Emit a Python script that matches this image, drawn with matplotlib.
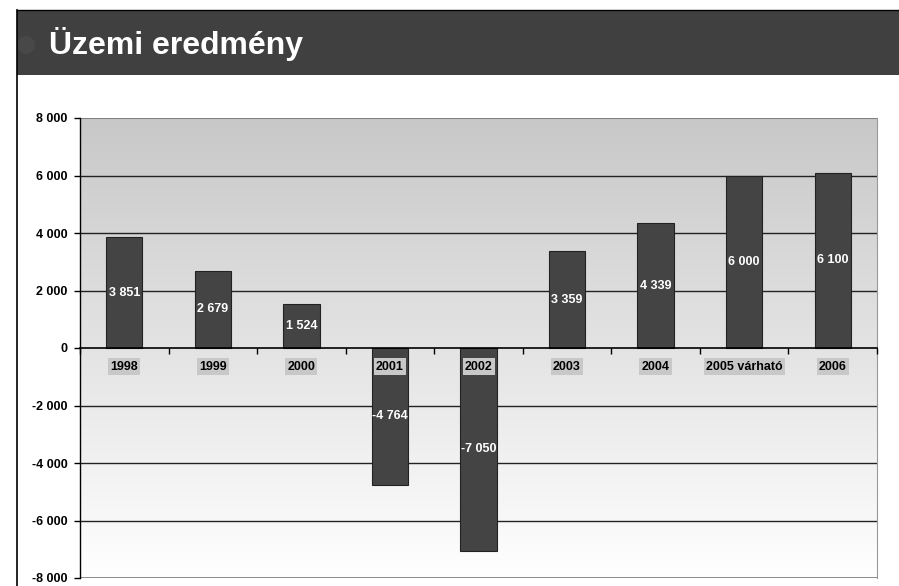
import numpy as np
import matplotlib.pyplot as plt
from matplotlib.patches import Rectangle, Ellipse
from matplotlib.ticker import FuncFormatter

plt.rcParams['font.family'] = ['Liberation Sans', 'DejaVu Sans']

years = ['1998', '1999', '2000', '2001', '2002', '2003', '2004', '2005 várható', '2006']
values = [3851, 2679, 1524, -4764, -7050, 3359, 4339, 6000, 6100]
yticks = [-8000, -6000, -4000, -2000, 0, 2000, 4000, 6000, 8000]


def fmt(v, pos=None):
    s = '{:,}'.format(int(abs(v))).replace(',', ' ')
    return ('-' if v < 0 else '') + s


fig = plt.figure(figsize=(8.99, 5.86), dpi=100)

# header band and page frame
fig.patches.append(Rectangle((17 / 899, 1 - 75 / 586), 1, 65 / 586, transform=fig.transFigure,
                             facecolor='#404040', edgecolor='none', zorder=0))
fig.patches.append(Ellipse((26 / 899, 1 - 45 / 586), 18 / 899, 18 / 586, transform=fig.transFigure,
                           facecolor='#484848', edgecolor='none', zorder=1))
fig.add_artist(plt.Line2D([17 / 899, 17 / 899], [0, 1 - 10 / 586], transform=fig.transFigure,
                          color='black', lw=1.2))
fig.add_artist(plt.Line2D([17 / 899, 1], [1 - 10 / 586, 1 - 10 / 586], transform=fig.transFigure,
                          color='black', lw=1.0))
fig.text(49 / 899, 1 - 44 / 586, 'Üzemi eredmény', color='white', fontsize=23,
         fontweight='bold', va='center', ha='left')

ax = fig.add_axes([80 / 899, 1 - 578 / 586, 797 / 899, 460 / 586])
x = np.arange(len(years))
ax.set_xlim(-0.5, len(years) - 0.5)
ax.set_ylim(-8000, 8000)

# gradient background: gray at top, white at bottom
shade = np.linspace(1.0, 200 / 255, 256).reshape(-1, 1)
img = np.dstack([shade, shade, shade])
ax.imshow(img, aspect='auto', extent=[-0.5, len(years) - 0.5, -8000, 8000],
          origin='lower', zorder=0, interpolation='bilinear')

for t in yticks[1:-1]:
    if t != 0:
        ax.axhline(t, color='#222222', lw=1.0, zorder=1)
ax.axhline(8000, color='#808080', lw=1.5, zorder=1)
ax.axhline(-8000, color='#808080', lw=2.0, zorder=1)

ax.bar(x, values, width=0.41, color='#444444', edgecolor='#222222', lw=0.8, zorder=2)

for xi, v in zip(x, values):
    ax.text(xi, v / 2, fmt(v), color='white', fontsize=9, fontweight='bold',
            ha='center', va='center', zorder=3)

ax.set_axisbelow(False)
ax.spines['bottom'].set_position(('data', 0))
ax.spines['bottom'].set_zorder(4)
ax.spines['bottom'].set_linewidth(1.2)
ax.spines['top'].set_visible(False)
ax.spines['right'].set_color('#999999')
ax.spines['left'].set_linewidth(1.0)

ax.set_xticks(x)
ax.set_xticklabels(years, fontsize=9, fontweight='bold')
ax.set_xticks(np.arange(len(years) + 1) - 0.5, minor=True)
ax.tick_params(axis='x', which='major', length=0, pad=9)
ax.tick_params(axis='x', which='minor', length=4, direction='out', width=1.0)
for lab in ax.get_xticklabels():
    lab.set_bbox(dict(facecolor='#c8c8c8', edgecolor='none', pad=1.5))
    lab.set_zorder(5)

ax.set_yticks(yticks)
ax.yaxis.set_major_formatter(FuncFormatter(fmt))
ax.tick_params(axis='y', labelsize=9, length=4, width=1.0, pad=5)
for lab in ax.get_yticklabels():
    lab.set_fontweight('bold')

fig.savefig('out.png', dpi=100)
